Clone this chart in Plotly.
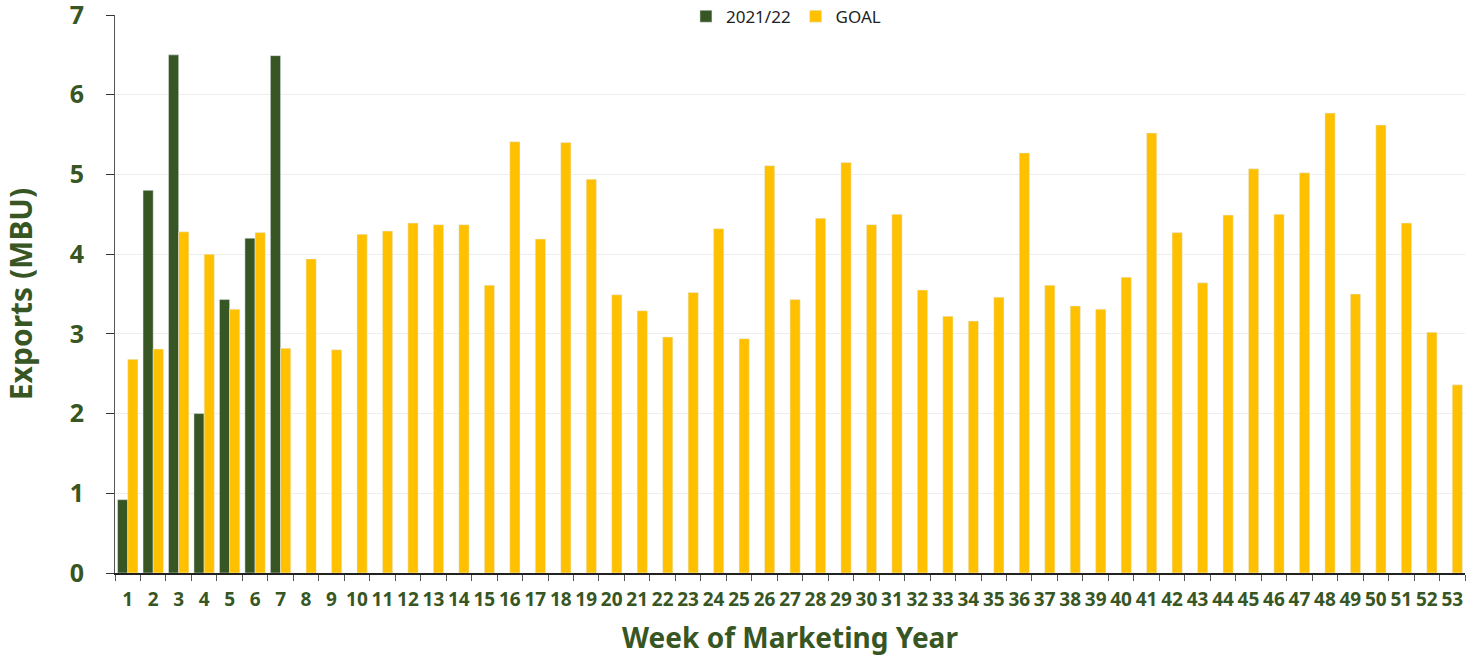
import plotly.graph_objects as go

weeks = [str(i) for i in range(1, 54)]
exports_2122 = [0.92, 4.80, 6.50, 2.00, 3.43, 4.20, 6.49]
goal = [2.68, 2.81, 4.28, 4.00, 3.31, 4.27, 2.82, 3.94, 2.80, 4.25,
        4.29, 4.39, 4.37, 4.37, 3.61, 5.41, 4.19, 5.40, 4.94, 3.49,
        3.29, 2.96, 3.52, 4.32, 2.94, 5.11, 3.43, 4.45, 5.15, 4.37,
        4.50, 3.55, 3.22, 3.16, 3.46, 5.27, 3.61, 3.35, 3.31, 3.71,
        5.52, 4.27, 3.64, 4.49, 5.07, 4.50, 5.02, 5.77, 3.50, 5.62,
        4.39, 3.02, 2.36]

GREEN = "#375623"
GOLD = "#FFC000"
FONT = "Noto Sans"

fig = go.Figure()
fig.add_trace(go.Bar(x=weeks[:len(exports_2122)], y=exports_2122, name="2021/22",
                     marker=dict(color=GREEN)))
fig.add_trace(go.Bar(x=weeks, y=goal, name="GOAL", marker=dict(color=GOLD)))

fig.update_layout(
    width=1478, height=658,
    margin=dict(l=115, r=13, t=15, b=85, autoexpand=False),
    paper_bgcolor="white", plot_bgcolor="white",
    barmode="group", bargap=0.2, bargroupgap=0,
    font=dict(family=FONT, color=GREEN),
    legend=dict(orientation="h", x=0.497, xanchor="center", y=0.997, yanchor="middle",
                font=dict(family=FONT, size=17, color="#222222"),
                bgcolor="rgba(255,255,255,0)", traceorder="normal"),
    xaxis=dict(
        type="category", categoryorder="array", categoryarray=weeks,
        tickson="boundaries", ticks="outside", ticklen=6, tickcolor="#555555",
        tickangle=0, ticklabeloverflow="allow", ticklabelstandoff=8,
        showline=True, linecolor="#222222", linewidth=1.5,
        tickfont=dict(family=FONT, size=19, color=GREEN, weight="bold"),
        title=dict(text="Week of Marketing Year", standoff=18,
                   font=dict(family=FONT, size=28, color=GREEN, weight="bold")),
        showgrid=False,
    ),
    yaxis=dict(
        range=[0, 7], dtick=1, ticks="outside", ticklen=8, tickcolor="#333333",
        ticklabelstandoff=17, ticklabeloverflow="allow",
        showline=True, linecolor="#555555", linewidth=1,
        showgrid=True, gridcolor="#EEEEEE", gridwidth=1,
        zeroline=False,
        tickfont=dict(family=FONT, size=25, color=GREEN, weight="bold"),
        title=dict(text="Exports (MBU)", standoff=45,
                   font=dict(family=FONT, size=30, color=GREEN, weight="bold")),
    ),
)

fig.write_html("out.html",
               config={"displayModeBar": False},
               post_script="document.body.style.margin='0';")
